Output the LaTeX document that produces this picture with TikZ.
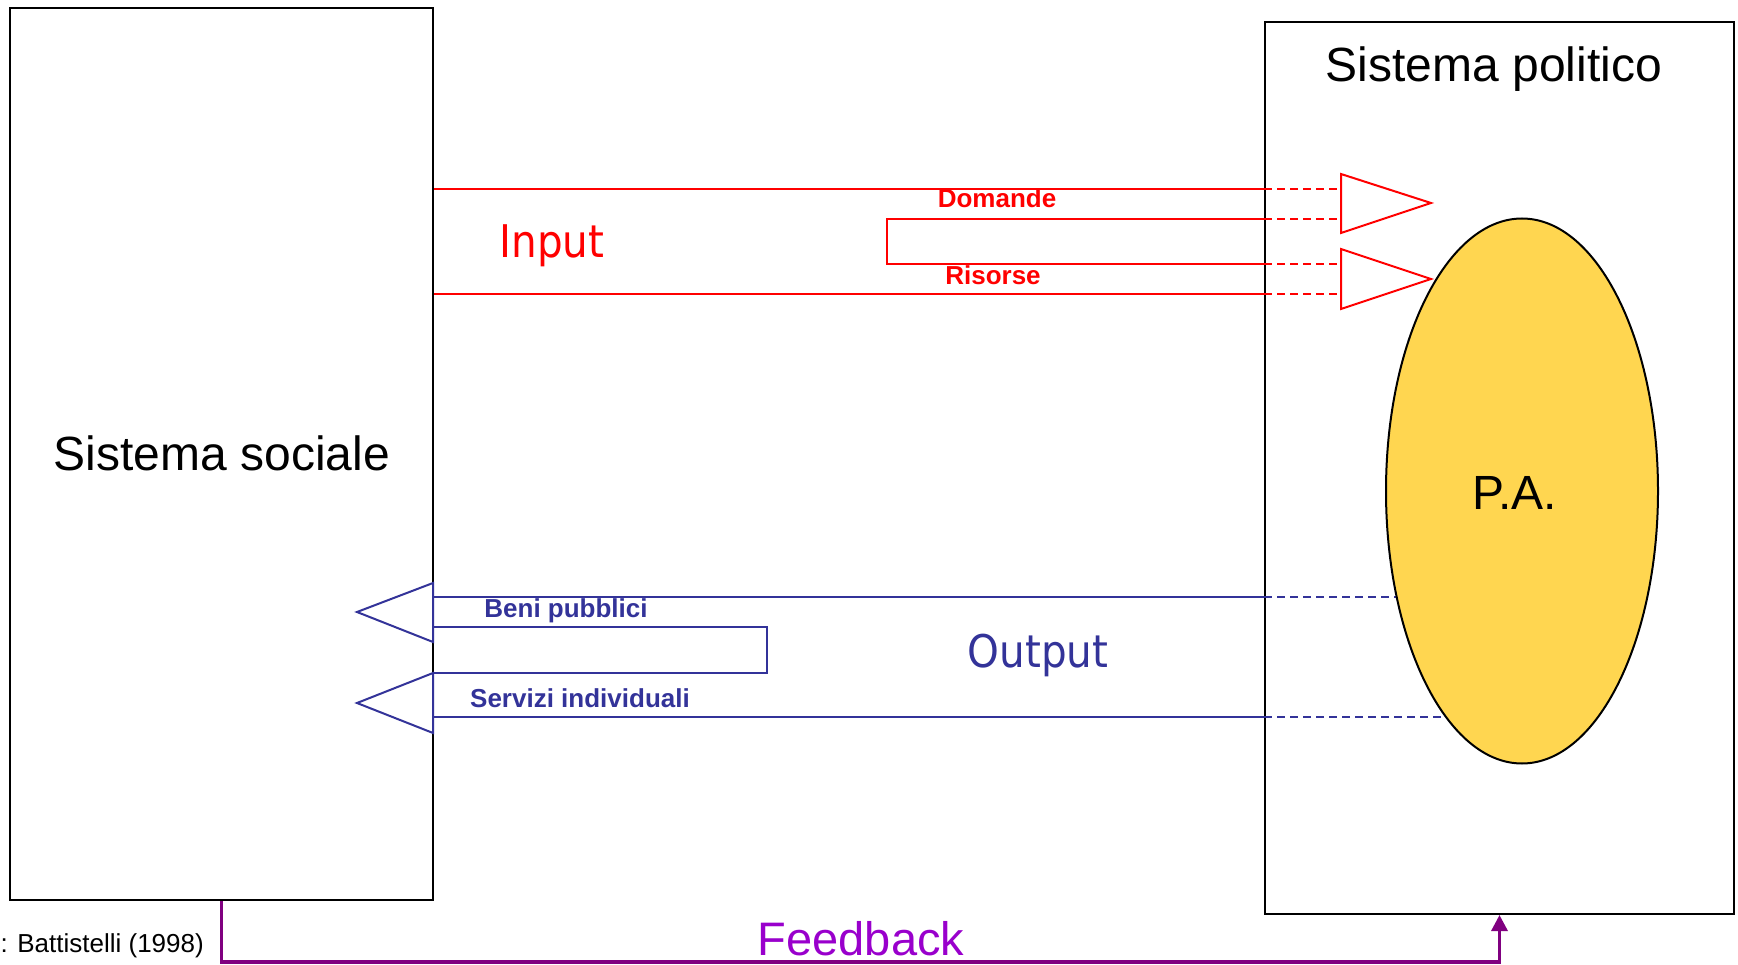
\documentclass[tikz,border=0pt]{standalone}
\usepackage{fontspec}
\setmainfont{Liberation Sans}
\newfontfamily\tah{DejaVu Sans}[FakeStretch=0.9]
\usetikzlibrary{arrows.meta,shapes.geometric}
\definecolor{redc}{RGB}{255,0,0}
\definecolor{bluec}{RGB}{51,51,153}
\definecolor{purl}{RGB}{128,0,128}
\definecolor{purt}{RGB}{153,0,204}
\definecolor{yel}{RGB}{255,214,80}
\tikzset{
  box/.style={draw=black, line width=2pt, inner sep=0pt, fill=white},
  big/.style={font=\fontsize{47}{56}\selectfont, inner sep=0pt},
  bigger/.style={font=\fontsize{48}{57}\selectfont, inner sep=0pt},
  tahbig/.style={font=\tah\fontsize{45}{54}\selectfont, inner sep=0pt},
  lbl/.style={font=\bfseries\fontsize{26}{31}\selectfont, inner sep=0pt},
  rl/.style={draw=redc, line width=2pt},
  bl/.style={draw=bluec, line width=2pt},
  dsh/.style={dash pattern=on 8pt off 5pt},
  fbk/.style={draw=purl, line width=3.3pt, -{Triangle[width=16pt,length=16pt]}},
}
\begin{document}
\begin{tikzpicture}[x=1pt,y=-1pt]
\useasboundingbox (0,0) rectangle (1738,965);
% boxes
\node[box, minimum width=423pt, minimum height=892pt] (soc) at (221.5,454) {};
\node[box, minimum width=469pt, minimum height=892pt] (pol) at (1499.5,468) {};
\node[bigger, anchor=base] (socT) at (222,471) {Sistema sociale};
\node[bigger, anchor=base] (polT) at (1494,82) {Sistema politico};
% coordinates
\coordinate (da) at (1341,189);
\coordinate (db) at (1341,219);
\coordinate (ra) at (1341,264);
\coordinate (rb) at (1341,294);
\coordinate (ba) at (1397,597);
\coordinate (sb) at (1447,717);
\coordinate (bb) at (767,627);
\coordinate (bc) at (767,673);
\coordinate (rk) at (887,219);
\coordinate (rk2) at (887,264);
% red input
\draw[rl] (soc.east |- da) -- (pol.west |- da);
\draw[rl] (pol.west |- db) -- (rk) -- (rk2) -- (pol.west |- ra);
\draw[rl] (soc.east |- rb) -- (pol.west |- rb);
\foreach \c in {da,db,ra,rb} \draw[rl,dsh] (pol.west |- \c) -- (\c);
\draw[rl, line join=miter] (1341,174) -- (1431,203) -- (1341,233) -- cycle;
\draw[rl, line join=miter] (1341,249) -- (1431,279) -- (1341,309) -- cycle;
% blue output
\draw[bl] (soc.east |- ba) -- (pol.west |- ba);
\draw[bl,dsh] (pol.west |- ba) -- (ba);
\draw[bl] (soc.east |- sb) -- (pol.west |- sb);
\draw[bl,dsh] (pol.west |- sb) -- (sb);
\draw[bl] (soc.east |- bb) -- (bb) -- (bc) -- (soc.east |- bc);
\draw[bl, line join=miter] (433,583) -- (357,612) -- (433,642) -- cycle;
\draw[bl, line join=miter] (433,673) -- (357,703) -- (433,733) -- cycle;
% ellipse
\node[ellipse, draw=black, line width=2pt, fill=yel, minimum width=272pt, minimum height=545pt, inner sep=0pt] (pa) at (1522,491) {};
\node[bigger, anchor=base] (paT) at (1515,509) {P.A.};
% labels
\node[tahbig, anchor=base, text=redc] (inT) at (552,258) {Input};
\node[tahbig, anchor=base, text=bluec] (outT) at (1038,667) {Output};
\node[lbl, anchor=base, text=redc] (domT) at (997,208) {Domande};
\node[lbl, anchor=base, text=redc] (risT) at (993,285) {Risorse};
\node[lbl, anchor=base, text=bluec] (benT) at (566,617) {Beni pubblici};
\node[lbl, anchor=base, text=bluec] (serT) at (580,707) {Servizi individuali};
% feedback
\coordinate (fbc) at (860,962);
\draw[fbk] (soc.south) |- (fbc) -| (pol.south);
\node[big, anchor=base, text=purt] (fbT) at (861,955) {Feedback};
\node[font=\fontsize{26}{31}\selectfont, inner sep=0pt, anchor=base east] (src) at (204,952) {: Battistelli (1998)};
\end{tikzpicture}
\end{document}
